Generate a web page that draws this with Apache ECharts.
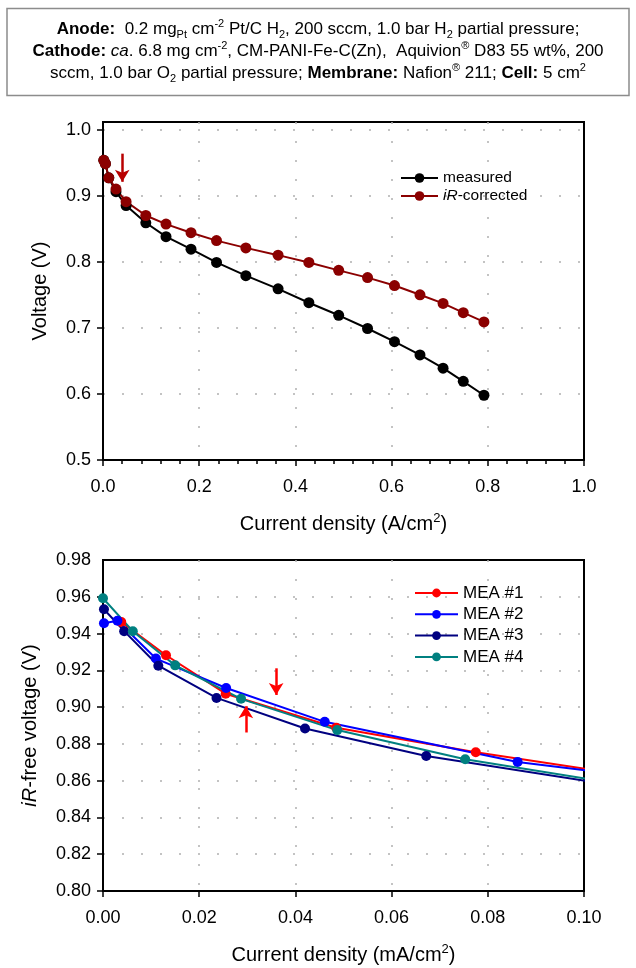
<!DOCTYPE html>
<html>
<head>
<meta charset="utf-8">
<script src="https://cdn.jsdelivr.net/npm/echarts@6/dist/echarts.min.js"></script>
<style>
  html, body { margin: 0; padding: 0; background: #fff; }
  #chart { width: 636px; height: 968px; }
</style>
</head>
<body>
<div id="chart"></div>
<script>
// top panel: polarization curve
var currentA = [0.0017, 0.005, 0.012, 0.027, 0.048, 0.089, 0.131, 0.183, 0.236, 0.297, 0.364, 0.428, 0.490, 0.550, 0.606, 0.659, 0.707, 0.749, 0.792];
var measured = [0.9535, 0.9485, 0.927, 0.906, 0.885, 0.859, 0.838, 0.819, 0.799, 0.779, 0.759, 0.738, 0.719, 0.699, 0.679, 0.659, 0.639, 0.619, 0.598];
var corrected = [0.9535, 0.9485, 0.927, 0.910, 0.891, 0.870, 0.857, 0.844, 0.832, 0.821, 0.810, 0.799, 0.787, 0.776, 0.764, 0.750, 0.737, 0.723, 0.709];
var topYTicks = [0.5, 0.6, 0.7, 0.8, 0.9, 1.0];
var topArrow = [[0.040, 0.9636], [0.040, 0.921]];

// bottom panel: iR-free voltage, low current region (last point of each lies past the axis end)
var mea1X = [0.0038, 0.0131, 0.0255, 0.0485, 0.0775, 0.110];
var mea1V = [0.9463, 0.9282, 0.9073, 0.8888, 0.8755, 0.8626];
var mea2X = [0.0002, 0.0030, 0.0110, 0.0256, 0.0461, 0.0862, 0.120];
var mea2V = [0.9456, 0.9470, 0.9264, 0.9104, 0.8920, 0.8702, 0.8592];
var mea3X = [0.0002, 0.0044, 0.0115, 0.0236, 0.0420, 0.0672, 0.110];
var mea3V = [0.9532, 0.9413, 0.9225, 0.9050, 0.8884, 0.8734, 0.8559];
var mea4X = [0.0000, 0.0062, 0.0150, 0.0287, 0.0487, 0.0753, 0.110];
var mea4V = [0.9592, 0.9413, 0.9227, 0.9045, 0.8875, 0.8716, 0.8570];
var bottomYTicks = [0.80, 0.82, 0.84, 0.86, 0.88, 0.90, 0.92, 0.94, 0.96];
var downArrow = [[0.036, 0.9211], [0.036, 0.9066]];
var upArrow = [[0.0297, 0.8862], [0.0297, 0.9005]];

var FONT = 'Liberation Sans, Arial, sans-serif';

function pairs(xs, ys) {
  return xs.map(function (x, i) { return [x, ys[i]]; });
}

function arrow(list, color) {
  return {
    silent: true,
    animation: false,
    symbol: ['none', 'arrow'],
    symbolSize: [11, 12],
    label: { show: false },
    lineStyle: { color: color, width: 2.5, type: 'solid' },
    data: list.map(function (pts) { return [{ coord: pts[0] }, { coord: pts[1] }]; })
  };
}

var dotted = { color: '#b0b0b0', type: [2, 17], width: 1.5 };
var black = { color: '#000', width: 2 };
var tickStyle = { color: '#000', width: 1.5 };
var nameStyle = {
  fontSize: 20, color: '#000', fontFamily: FONT, lineHeight: 24,
  rich: {
    i: { fontSize: 20, fontStyle: 'italic', color: '#000', fontFamily: FONT },
    sup: { fontSize: 13, verticalAlign: 'top', color: '#000', fontFamily: FONT }
  }
};
// vertical split lines stop short of the frame so the border stays solid black
var splitX = { show: true, showMinLine: false, showMaxLine: false, lineStyle: dotted };
var splitY = { show: true, lineStyle: dotted };

var boxRich = {
  n: { fontSize: 17, color: '#000', fontFamily: FONT, lineHeight: 22 },
  b: { fontSize: 17, fontWeight: 'bold', color: '#000', fontFamily: FONT, lineHeight: 22 },
  i: { fontSize: 17, fontStyle: 'italic', color: '#000', fontFamily: FONT, lineHeight: 22 },
  sup: { fontSize: 11, verticalAlign: 'top', color: '#000', fontFamily: FONT },
  sub: { fontSize: 11, verticalAlign: 'bottom', color: '#000', fontFamily: FONT }
};
var boxLines = [
  '{b|Anode:}{n|  0.2 mg}{sub|Pt}{n| cm}{sup|-2}{n| Pt/C H}{sub|2}{n|, 200 sccm, 1.0 bar H}{sub|2}{n| partial pressure;}',
  '{b|Cathode:}{i| ca}{n|. 6.8 mg cm}{sup|-2}{n|, CM-PANI-Fe-C(Zn),  Aquivion}{sup|®}{n| D83 55 wt%, 200}',
  '{n|sccm, 1.0 bar O}{sub|2}{n| partial pressure; }{b|Membrane:}{n| Nafion}{sup|®}{n| 211; }{b|Cell:}{n| 5 cm}{sup|2}'
];
var boxLineY = [29, 51, 73];

var chart = echarts.init(document.getElementById('chart'), null, { renderer: 'canvas' });

chart.setOption({
  animation: false,
  backgroundColor: '#fff',
  textStyle: { fontFamily: FONT },
  graphic: [
    {
      type: 'rect',
      shape: { x: 7, y: 8.5, width: 622, height: 87 },
      style: { fill: 'none', stroke: '#8c8c8c', lineWidth: 1.5 }
    }
  ].concat(boxLines.map(function (t, i) {
    return {
      type: 'text',
      x: 318,
      y: boxLineY[i],
      style: { text: t, rich: boxRich, align: 'center', verticalAlign: 'middle' }
    };
  })),
  grid: [
    { left: 103, right: 52, top: 122, height: 338, show: true, borderColor: '#000', borderWidth: 2, backgroundColor: 'transparent' },
    { left: 103, right: 52, top: 560, height: 336, show: true, borderColor: '#000', borderWidth: 2, backgroundColor: 'transparent' }
  ],
  legend: [
    {
      data: ['measured', 'iR-corrected'],
      orient: 'vertical',
      left: 400,
      top: 170,
      padding: 0,
      itemWidth: 37,
      itemHeight: 12,
      itemGap: 2,
      selectedMode: false,
      formatter: function (name) {
        return name === 'iR-corrected' ? '{i|iR}-corrected' : name;
      },
      textStyle: {
        fontSize: 15.5, color: '#000', fontFamily: FONT, lineHeight: 16,
        rich: { i: { fontSize: 15.5, fontStyle: 'italic', color: '#000', fontFamily: FONT } }
      }
    },
    {
      data: ['MEA #1', 'MEA #2', 'MEA #3', 'MEA #4'],
      orient: 'vertical',
      left: 414,
      top: 584,
      padding: 0,
      itemWidth: 43,
      itemHeight: 11,
      itemGap: 3.3,
      selectedMode: false,
      textStyle: { fontSize: 17, color: '#000', fontFamily: FONT, lineHeight: 18 }
    }
  ],
  xAxis: [
    {
      type: 'value', gridIndex: 0, min: 0, max: 1, interval: 0.2,
      axisLine: { show: true, lineStyle: black },
      axisTick: { show: true, inside: false, length: 6, lineStyle: tickStyle },
      minorTick: { show: true, splitNumber: 5, length: 4, lineStyle: tickStyle },
      axisLabel: { fontSize: 18, color: '#000', margin: 18, formatter: function (v) { return v.toFixed(1); } },
      splitLine: splitX,
      name: 'Current density (A/cm{sup|2})',
      nameLocation: 'middle', nameGap: 52,
      nameTextStyle: nameStyle
    },
    {
      type: 'value', gridIndex: 1, min: 0, max: 0.1, interval: 0.02,
      axisLine: { show: true, lineStyle: black },
      axisTick: { show: true, inside: false, length: 6, lineStyle: tickStyle },
      axisLabel: { fontSize: 18, color: '#000', margin: 18, formatter: function (v) { return v.toFixed(2); } },
      splitLine: splitX,
      name: 'Current density (mA/cm{sup|2})',
      nameLocation: 'middle', nameGap: 52,
      nameTextStyle: nameStyle
    }
  ],
  yAxis: [
    {
      type: 'value', gridIndex: 0, min: 0.5, max: 1.0115, interval: 0.1,
      axisLine: { show: true, lineStyle: black },
      axisTick: { show: true, inside: false, length: 6, lineStyle: tickStyle, customValues: topYTicks },
      axisLabel: { fontSize: 18, color: '#000', margin: 12, customValues: topYTicks, formatter: function (v) { return v.toFixed(1); } },
      splitLine: splitY,
      name: 'Voltage (V)',
      nameLocation: 'middle', nameGap: 51,
      nameTextStyle: nameStyle
    },
    {
      type: 'value', gridIndex: 1, min: 0.8, max: 0.98, interval: 0.02,
      axisLine: { show: true, lineStyle: black },
      axisTick: { show: true, inside: false, length: 6, lineStyle: tickStyle, customValues: bottomYTicks },
      axisLabel: { fontSize: 18, color: '#000', margin: 12, formatter: function (v) { return v.toFixed(2); } },
      splitLine: splitY,
      name: '{i|iR}-free voltage (V)',
      nameLocation: 'middle', nameGap: 61,
      nameTextStyle: nameStyle
    }
  ],
  series: [
    {
      name: 'measured', type: 'line', xAxisIndex: 0, yAxisIndex: 0,
      data: pairs(currentA, measured),
      symbol: 'circle', symbolSize: 11,
      lineStyle: { color: '#000', width: 2 },
      itemStyle: { color: '#000' }
    },
    {
      name: 'iR-corrected', type: 'line', xAxisIndex: 0, yAxisIndex: 0,
      data: pairs(currentA, corrected),
      symbol: 'circle', symbolSize: 11,
      lineStyle: { color: '#8b0000', width: 2 },
      itemStyle: { color: '#8b0000' },
      markLine: arrow([topArrow], '#b80000')
    },
    {
      name: 'MEA #1', type: 'line', xAxisIndex: 1, yAxisIndex: 1,
      data: pairs(mea1X, mea1V),
      symbol: 'circle', symbolSize: 10,
      lineStyle: { color: '#ff0000', width: 2 },
      itemStyle: { color: '#ff0000' },
      markLine: arrow([downArrow, upArrow], '#ff0000')
    },
    {
      name: 'MEA #2', type: 'line', xAxisIndex: 1, yAxisIndex: 1,
      data: pairs(mea2X, mea2V),
      symbol: 'circle', symbolSize: 10,
      lineStyle: { color: '#0000ff', width: 2 },
      itemStyle: { color: '#0000ff' }
    },
    {
      name: 'MEA #3', type: 'line', xAxisIndex: 1, yAxisIndex: 1,
      data: pairs(mea3X, mea3V),
      symbol: 'circle', symbolSize: 10,
      lineStyle: { color: '#000080', width: 2 },
      itemStyle: { color: '#000080' }
    },
    {
      name: 'MEA #4', type: 'line', xAxisIndex: 1, yAxisIndex: 1,
      data: pairs(mea4X, mea4V),
      symbol: 'circle', symbolSize: 10,
      lineStyle: { color: '#008080', width: 2 },
      itemStyle: { color: '#008080' }
    }
  ]
});
</script>
</body>
</html>
